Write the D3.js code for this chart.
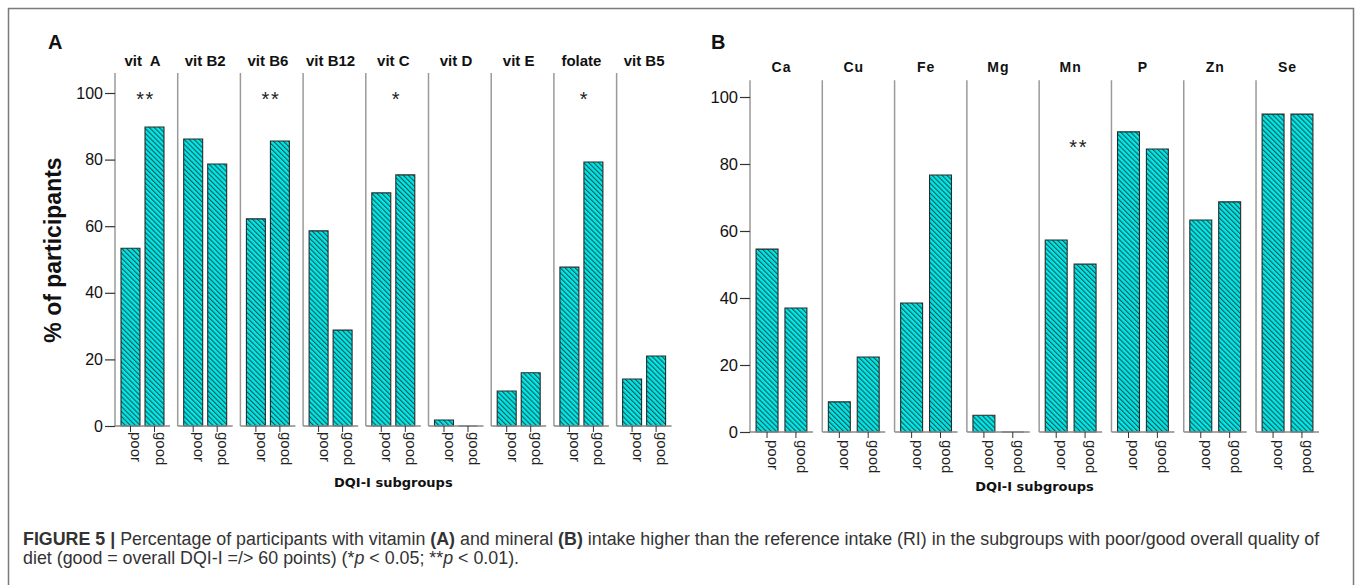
<!DOCTYPE html>
<html><head><meta charset="utf-8">
<script src="https://cdn.jsdelivr.net/npm/d3@7/dist/d3.min.js"></script>
<style>
html,body{margin:0;padding:0;background:#fff;}
svg{display:block;}
</style></head>
<body>
<svg id="chart" width="1357" height="585"></svg>
<script>
// ---------- DATA ----------
const groups = ["poor", "good"];
const yTicks = [0, 20, 40, 60, 80, 100];

const vitamins = ["vit  A", "vit B2", "vit B6", "vit B12", "vit C", "vit D", "vit E", "folate", "vit B5"];
const vitPoor  = [53.4, 86.2, 62.2, 58.6, 70.0, 1.8, 10.5, 47.7, 14.1];
const vitGood  = [89.8, 78.7, 85.6, 28.8, 75.4, 0.0, 16.0, 79.3, 21.0];
const vitSig   = ["**", "", "**", "", "*", "", "", "*", ""];

const minerals = ["Ca", "Cu", "Fe", "Mg", "Mn", "P", "Zn", "Se"];
const minPoor  = [54.6, 9.0, 38.5, 5.0, 57.3, 89.6, 63.3, 94.9];
const minGood  = [37.0, 22.4, 76.7, 0.0, 50.1, 84.5, 68.7, 94.9];
const minSig   = ["", "", "", "", "**", "", "", ""];

const yTitle = "% of participants";
const xTitle = "DQI-I subgroups";

// ---------- SETUP ----------
const svg = d3.select("#chart");
const FONT = "'Liberation Sans', Arial, sans-serif";

svg.append("rect").attr("x", 8.5).attr("y", 8.5).attr("width", 1345).attr("height", 620)
  .attr("fill", "none").attr("stroke", "#7a7a7a").attr("stroke-width", 1.5);

const defs = svg.append("defs");
const P = 3.5;
const pat = defs.append("pattern").attr("id", "hatch").attr("patternUnits", "userSpaceOnUse")
  .attr("width", P).attr("height", P).attr("patternTransform", "rotate(-45)");
pat.append("rect").attr("width", P).attr("height", P).attr("fill", "#00e8e8");
pat.append("line").attr("x1", 0.6).attr("y1", 0).attr("x2", 0.6).attr("y2", P)
  .attr("stroke", "#163e3e").attr("stroke-width", 0.95);

function drawPanel(cfg) {
  const g = svg.append("g");
  const y = d3.scaleLinear().domain([0, 100]).range([cfg.y0, cfg.y100]);
  const fx = d3.scaleBand().domain(cfg.cats).range([cfg.x0, cfg.x1])
    .paddingInner(cfg.facetPad).paddingOuter(0);
  const bx = d3.scaleBand().domain(groups).range([0, fx.bandwidth()])
    .paddingInner(cfg.barPadIn).paddingOuter(cfg.barPadOut);
  const topY = y(cfg.lineTop);

  cfg.cats.forEach((c, i) => {
    const fg = g.append("g").attr("transform", `translate(${fx(c)},0)`);
    fg.append("line").attr("x1", 0).attr("x2", 0).attr("y1", topY).attr("y2", y(0))
      .attr("stroke", "#9a9a9a").attr("stroke-width", 1.5);
    const vals = [cfg.poor[i], cfg.good[i]];
    groups.forEach((gr, j) => {
      const x = bx(gr), w = bx.bandwidth();
      const y0 = y(0), y1 = y(vals[j]);
      fg.append("path")
        .attr("d", `M${x},${y0}V${y1}H${x + w}V${y0}Z`)
        .attr("fill", "url(#hatch)").attr("stroke", "#2a2a2a").attr("stroke-width", 1.1);
    });
    fg.append("line").attr("x1", 0).attr("x2", fx.bandwidth()).attr("y1", y(0)).attr("y2", y(0))
      .attr("stroke", "#8a8a8a").attr("stroke-width", 1.5);
    groups.forEach(gr => {
      const cx = bx(gr) + bx.bandwidth() / 2;
      fg.append("line").attr("x1", cx).attr("x2", cx).attr("y1", y(0)).attr("y2", y(0) + 6)
        .attr("stroke", "#333").attr("stroke-width", 1);
      fg.append("text").attr("transform", `translate(${cx + 1},${y(0) + cfg.lblGap}) rotate(90)`)
        .attr("text-anchor", "start").attr("font-family", FONT).attr("font-size", 15)
        .attr("fill", "#222").text(gr);
    });
    fg.append("text").attr("x", fx.bandwidth() / 2).attr("y", cfg.headY)
      .attr("text-anchor", "middle").attr("font-family", FONT).attr("font-weight", "bold")
      .attr("font-size", cfg.headSize).attr("letter-spacing", cfg.headSpacing)
      .attr("fill", "#111").style("white-space", "pre").text(c);
    if (cfg.sig[i]) {
      fg.append("text").attr("x", fx.bandwidth() / 2 + cfg.sigDx).attr("y", y(cfg.sigLevel))
        .attr("text-anchor", "middle").attr("font-family", FONT).attr("font-size", 20)
        .attr("letter-spacing", 1.5).attr("fill", "#222").text(cfg.sig[i]);
    }
  });

  const ax = g.append("g").attr("transform", `translate(${cfg.x0},0)`)
    .call(d3.axisLeft(y).tickValues(yTicks).tickSize(10).tickSizeOuter(0).tickPadding(2));
  ax.select(".domain").remove();
  ax.selectAll(".tick line").attr("stroke", "#333").attr("stroke-width", 1.2);
  ax.selectAll(".tick text").attr("font-family", FONT).attr("font-size", cfg.tickSize).attr("fill", "#111");

  g.append("text").attr("x", (cfg.x0 + cfg.x1) / 2).attr("y", cfg.xTitleY)
    .attr("text-anchor", "middle").attr("font-family", "'DejaVu Sans', sans-serif")
    .attr("font-weight", "bold").attr("font-size", 13).attr("fill", "#111").text(xTitle);

  g.append("text").attr("x", cfg.letterX).attr("y", 49).attr("font-family", FONT)
    .attr("font-weight", "bold").attr("font-size", 20).attr("fill", "#111").text(cfg.letter);
  return y;
}

drawPanel({
  cats: vitamins, poor: vitPoor, good: vitGood, sig: vitSig,
  x0: 115, x1: 671.6, y0: 426, y100: 93, lineTop: 106,
  facetPad: 0.123, barPadIn: 0.21, barPadOut: 0.25,
  headY: 66, headSize: 15, headSpacing: 0, tickSize: 16,
  sigDx: 3, sigLevel: 96, lblGap: 6, xTitleY: 487, letter: "A", letterX: 48
});

drawPanel({
  cats: minerals, poor: minPoor, good: minGood, sig: minSig,
  x0: 750, x1: 1319, y0: 432, y100: 97, lineTop: 105,
  facetPad: 0.129, barPadIn: 0.24, barPadOut: 0.21,
  headY: 72, headSize: 14, headSpacing: 1, tickSize: 16.5,
  sigDx: 8, sigLevel: 83, lblGap: 8, xTitleY: 491, letter: "B", letterX: 711
});

svg.append("text").attr("transform", "translate(61,250) rotate(-90)")
  .attr("text-anchor", "middle").attr("font-family", FONT).attr("font-weight", "bold")
  .attr("font-size", 23).attr("fill", "#111").text(yTitle);

// caption
const cap = svg.append("g").attr("font-family", FONT).attr("fill", "#333");
const line1 = cap.append("text").attr("x", 23).attr("y", 545).attr("font-size", 15.5);
[["FIGURE 5 | ", "bold"], ["Percentage of participants with vitamin ", null], ["(A)", "bold"],
 [" and mineral ", null], ["(B)", "bold"],
 [" intake higher than the reference intake (RI) in the subgroups with poor/good overall quality of", null]]
  .forEach(([t, w]) => { const s = line1.append("tspan").style("white-space", "pre").text(t); if (w) s.attr("font-weight", w); });
const line2 = cap.append("text").attr("x", 23).attr("y", 564).attr("font-size", 15.5);
[["diet (good = overall DQI-I =/> 60 points) (*", null], ["p", "i"], [" < 0.05; **", null], ["p", "i"], [" < 0.01).", null]]
  .forEach(([t, w]) => { const s = line2.append("tspan").style("white-space", "pre").text(t); if (w === "i") s.attr("font-style", "italic"); });
const fs = 15.5 * 1297 / line1.node().getComputedTextLength();
line1.attr("font-size", fs); line2.attr("font-size", fs);
</script>
</body></html>
